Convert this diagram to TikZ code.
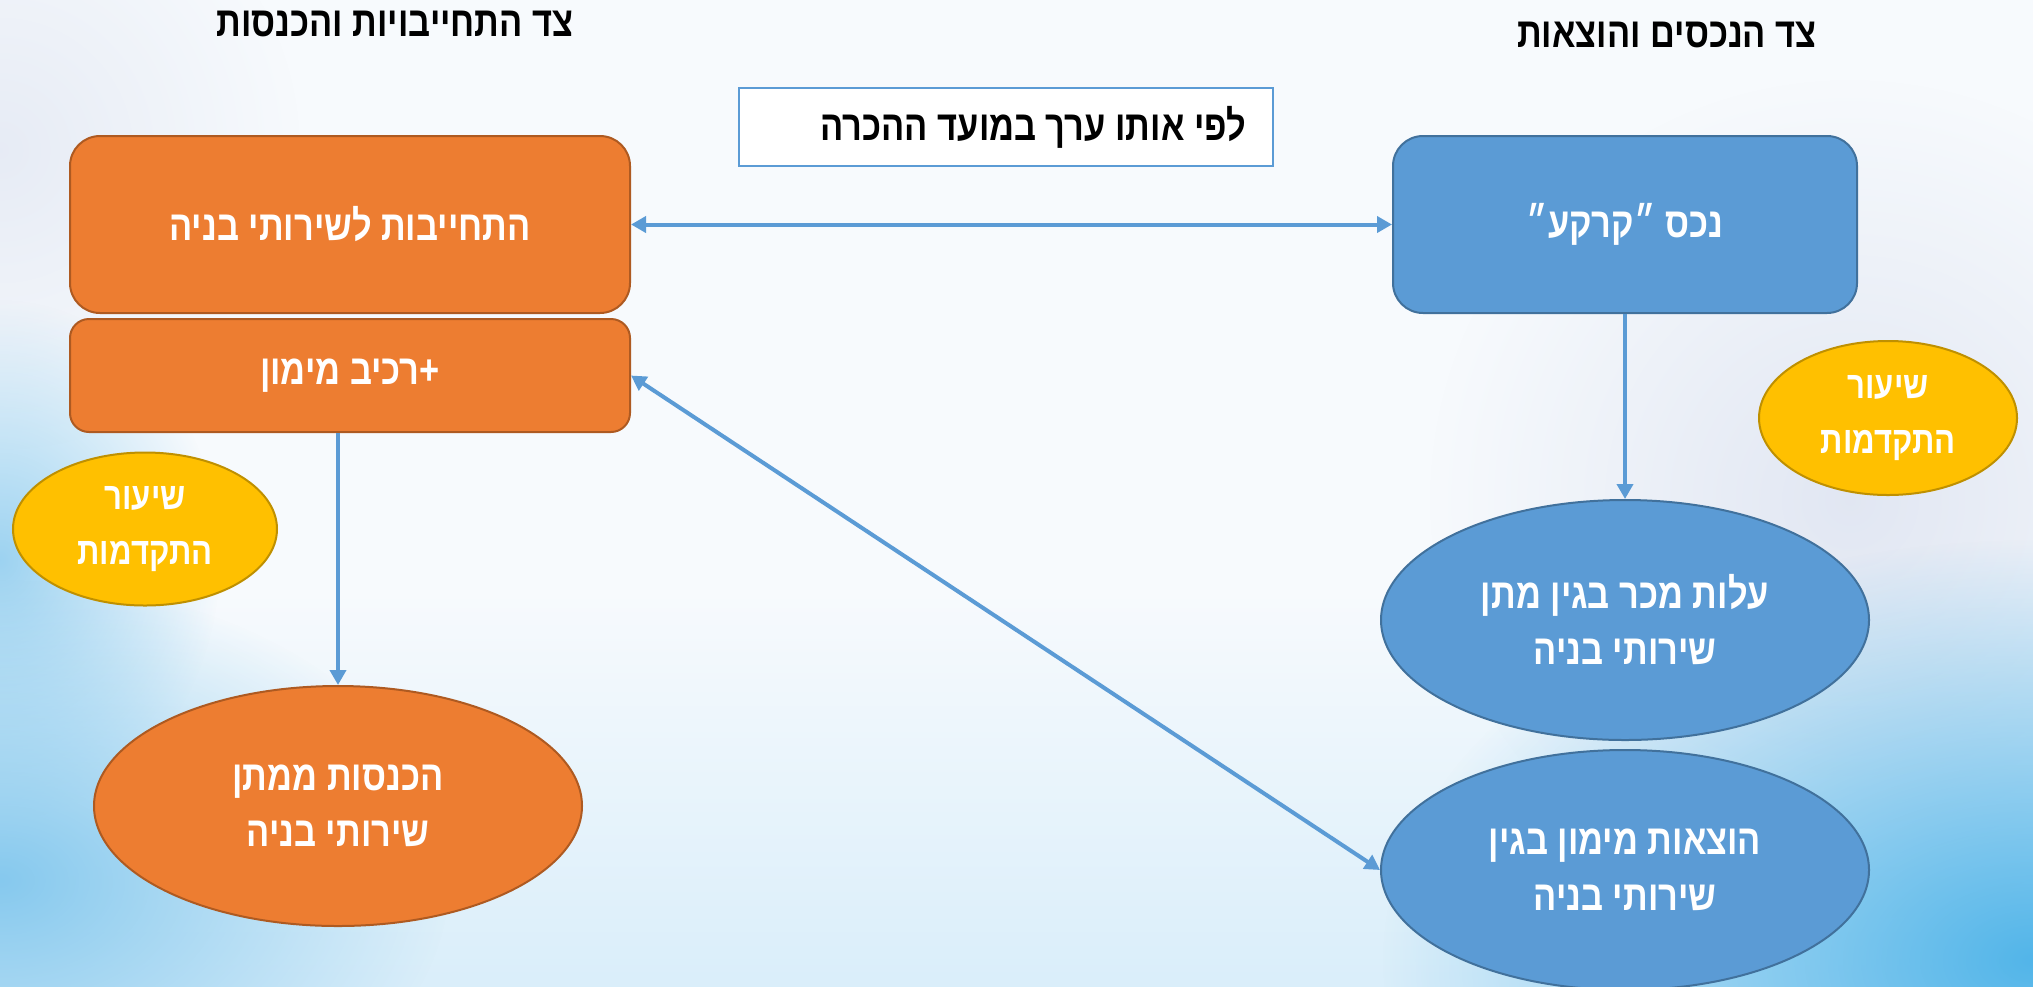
\documentclass[tikz,border=0pt]{standalone}
\usepackage{fontspec}
\usetikzlibrary{arrows.meta,shapes.geometric,fadings}
\TeXXeTstate=1
\newfontfamily\hebfont[Script=Hebrew,FakeStretch=0.82]{Liberation Sans}
\newcommand{\hebr}[1]{\beginR#1\endR}
\definecolor{orfill}{HTML}{ED7D31}
\definecolor{ordraw}{HTML}{AE5A21}
\definecolor{blfill}{HTML}{5B9BD5}
\definecolor{bldraw}{HTML}{41719C}
\definecolor{yefill}{HTML}{FFC000}
\definecolor{yedraw}{HTML}{BF9000}
\definecolor{arrowc}{HTML}{5B9BD5}
\definecolor{bgtop}{HTML}{EAECF3}
\definecolor{bgmid}{HTML}{F7FAFD}
\definecolor{bglow}{HTML}{D5ECF9}
\definecolor{bgbot}{HTML}{BEE2F6}
\definecolor{bgleft}{HTML}{86C9EE}
\definecolor{bgright}{HTML}{52B5E9}
\definecolor{bglav}{HTML}{DCE2F0}
\pgfdeclareverticalshading{bgshade}{100bp}{color(0bp)=(bgbot); color(22bp)=(bglow); color(45bp)=(bgmid); color(80bp)=(bgmid); color(100bp)=(bgtop)}
\tikzfading[name=softblob, inner color=transparent!0, outer color=transparent!100]
\tikzset{
  txt/.style={font=\hebfont\bfseries\fontsize{21}{28}\selectfont, text=white, align=center},
  ttl/.style={font=\hebfont\bfseries\fontsize{21}{28}\selectfont, text=black},
  ytxt/.style={font=\hebfont\bfseries\fontsize{19}{27.5}\selectfont, text=white, align=center},
  obox/.style={txt, draw=ordraw, fill=orfill, line width=1pt, rounded corners=15pt, inner sep=0pt},
  bbox/.style={txt, draw=bldraw, fill=blfill, line width=1pt, rounded corners=15pt, inner sep=0pt},
  oell/.style={txt, ellipse, draw=ordraw, fill=orfill, line width=1pt, inner sep=0pt, minimum width=244pt, minimum height=120pt},
  bell/.style={txt, ellipse, draw=bldraw, fill=blfill, line width=1pt, inner sep=0pt, minimum width=244pt, minimum height=120pt},
  yell/.style={ytxt, ellipse, draw=yedraw, fill=yefill, line width=1pt, inner sep=0pt},
  conn/.style={draw=arrowc, line width=2pt},
  tip/.style={-{Triangle[length=7.5pt,width=8pt]}},
  dtip/.style={{Triangle[length=7.5pt,width=8pt]}-{Triangle[length=7.5pt,width=8pt]}}
}
\begin{document}
\begin{tikzpicture}[x=0.5pt,y=-0.5pt]
\useasboundingbox (0,0) rectangle (2033,986);
\begin{scope}
\clip (0,0) rectangle (2033,986);
\shade[shading=bgshade] (0,0) rectangle (2033,986);
\fill[bglav, path fading=softblob, opacity=0.8] (1850,500) ellipse (420 and 420);
\fill[bglav, path fading=softblob, opacity=0.6] (0,150) ellipse (300 and 300);
\fill[bgleft, path fading=softblob, opacity=0.8] (0,560) ellipse (220 and 260);
\fill[bgleft, path fading=softblob] (0,880) ellipse (450 and 300);
\fill[bgright, path fading=softblob] (2033,960) ellipse (650 and 420);
\end{scope}

% titles
\node[ttl] (tl) at (395,24) {\hebr{צד התחייבויות והכנסות}};
\node[ttl] (tr) at (1667,35) {\hebr{צד הנכסים והוצאות}};

% note box
\node[draw=arrowc, fill=white, line width=1pt, minimum width=267pt, minimum height=39pt, inner sep=0pt] (note) at (1006,127) {};
\node[ttl, anchor=east] (notetxt) at ([xshift=-10.5pt]note.east) {\hebr{לפי אותו ערך במועד ההכרה}};

% boxes
\node[obox, minimum width=280pt, minimum height=88.5pt] (b1) at (350,224.5) {\hebr{התחייבות לשירותי בניה}};
\node[obox, rounded corners=9.5pt, minimum width=280pt, minimum height=56.5pt] (b2) at (350,375.5) {\hebr{+רכיב מימון}};
\node[bbox, minimum width=232pt, minimum height=88.5pt] (bb) at (1625,224.5) {\hebr{נכס ״קרקע״}};

% ellipses
\node[oell] (e3) at (338,806) {\hebr{הכנסות ממתן}\\\hebr{שירותי בניה}};
\node[bell] (e1) at (1625,620) {\hebr{עלות מכר בגין מתן}\\\hebr{שירותי בניה}};
\node[bell] (e2) at (1625,870) {\hebr{הוצאות מימון בגין}\\\hebr{שירותי בניה}};
\node[yell, minimum width=129pt, minimum height=77pt] (yr) at (1888,418) {\hebr{שיעור}\\\hebr{התקדמות}};
\node[yell, minimum width=132pt, minimum height=76.5pt] (yl) at (145,529) {\hebr{שיעור}\\\hebr{התקדמות}};

% connectors
\draw[conn, dtip] (b1.east) -- (bb.west);
\draw[conn, tip] (bb.south) -- (e1.north);
\draw[conn, tip] (e3.north |- b2.south) -- (e3.north);
\draw[conn, dtip] (b2.east) -- (e2.west);
\end{tikzpicture}
\end{document}
